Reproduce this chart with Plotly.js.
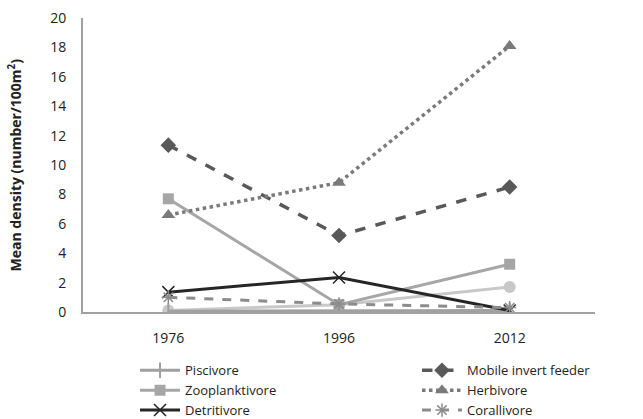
<!DOCTYPE html>
<html>
<head>
<meta charset="utf-8">
<script src="https://cdn.plot.ly/plotly-3.0.1.min.js"></script>
<style>html,body{margin:0;padding:0;background:#fff;}#chart{width:643px;height:419px;}</style>
</head>
<body>
<div id="chart"></div>
<script>
const years = ["1976", "1996", "2012"];
const piscivore = [0.05, 0.1, 0.1];
const mobileInvertFeeder = [11.35, 5.2, 8.5];
const zooplanktivore = [7.7, 0.5, 3.25];
const herbivore = [6.6, 8.8, 18.1];
const detritivore = [1.35, 2.35, 0.1];
const corallivore = [1.0, 0.55, 0.3];
const otherSeries = [0.1, 0.5, 1.7];
const yTicks = [0, 2, 4, 6, 8, 10, 12, 14, 16, 18, 20];
const yTitle = "<b>Mean density (number/100m<sup>2</sup>)</b>";

const mk = (name, y, legend, line, marker, extra) => Object.assign({
  x: years, y: y, name: name, type: "scatter", mode: "lines+markers",
  legend: legend, line: line, marker: marker
}, extra || {});

const data = [
  mk("Other", otherSeries, "legend", {color: "#c8c8c8", width: 3}, {symbol: "circle", size: 12, color: "#c8c8c8"}, {showlegend: false}),
  mk("Piscivore", piscivore, "legend", {color: "#a0a0a0", width: 3}, {symbol: "line-ns-open", size: 11, color: "#a0a0a0", line: {width: 2, color: "#a0a0a0"}}),
  mk("Zooplanktivore", zooplanktivore, "legend", {color: "#a6a6a6", width: 3}, {symbol: "square", size: 11, color: "#a6a6a6"}),
  mk("Detritivore", detritivore, "legend", {color: "#262626", width: 3}, {symbol: "x-thin-open", size: 12, color: "#262626", line: {width: 1.5, color: "#262626"}}),
  mk("Mobile invert feeder", mobileInvertFeeder, "legend2", {color: "#595959", width: 3.5, dash: "dash"}, {symbol: "diamond", size: 12, color: "#595959"}),
  mk("Herbivore", herbivore, "legend2", {color: "#7a7a7a", width: 3.5, dash: "dot"}, {symbol: "triangle-up", size: 12, color: "#7a7a7a"}),
  mk("Corallivore", corallivore, "legend2", {color: "#8c8c8c", width: 3, dash: "dash"}, {symbol: "asterisk-open", size: 11, color: "#8c8c8c", line: {width: 1.5, color: "#8c8c8c"}})
];

const legendBase = {
  orientation: "v", xref: "container", yref: "container",
  xanchor: "left", yanchor: "top", y: 0.152,
  itemwidth: 40, tracegroupgap: 0, traceorder: "normal",
  font: {size: 13, color: "#222"}, bgcolor: "rgba(0,0,0,0)", borderwidth: 0
};

const layout = {
  width: 643, height: 419,
  margin: {l: 83, r: 48, t: 18, b: 107, autoexpand: false},
  paper_bgcolor: "#fff", plot_bgcolor: "#fff",
  font: {family: "'Open Sans', Lato, sans-serif", size: 14, color: "#222"},
  xaxis: {
    type: "category", range: [-0.5, 2.5],
    showline: true, linecolor: "#a0a0a0", linewidth: 2,
    showgrid: false, zeroline: false, ticks: "",
    ticklabelstandoff: 12, tickfont: {size: 14, color: "#222"}
  },
  yaxis: {
    range: [0, 20], tickvals: yTicks, ticktext: yTicks.map(String),
    showline: true, linecolor: "#a0a0a0", linewidth: 2,
    showgrid: false, zeroline: false, ticks: "",
    ticklabelstandoff: 12, tickfont: {size: 14, color: "#222"}
  },
  annotations: [{
    text: yTitle, textangle: -90, showarrow: false,
    xref: "paper", yref: "paper", x: -0.132, y: 0.5,
    xanchor: "center", yanchor: "middle",
    font: {size: 14, color: "#222"}
  }],
  showlegend: true,
  legend: Object.assign({}, legendBase, {x: 0.21}),
  legend2: Object.assign({}, legendBase, {x: 0.6485})
};

Plotly.newPlot("chart", data, layout, {displayModeBar: false, staticPlot: true});
</script>
</body>
</html>
